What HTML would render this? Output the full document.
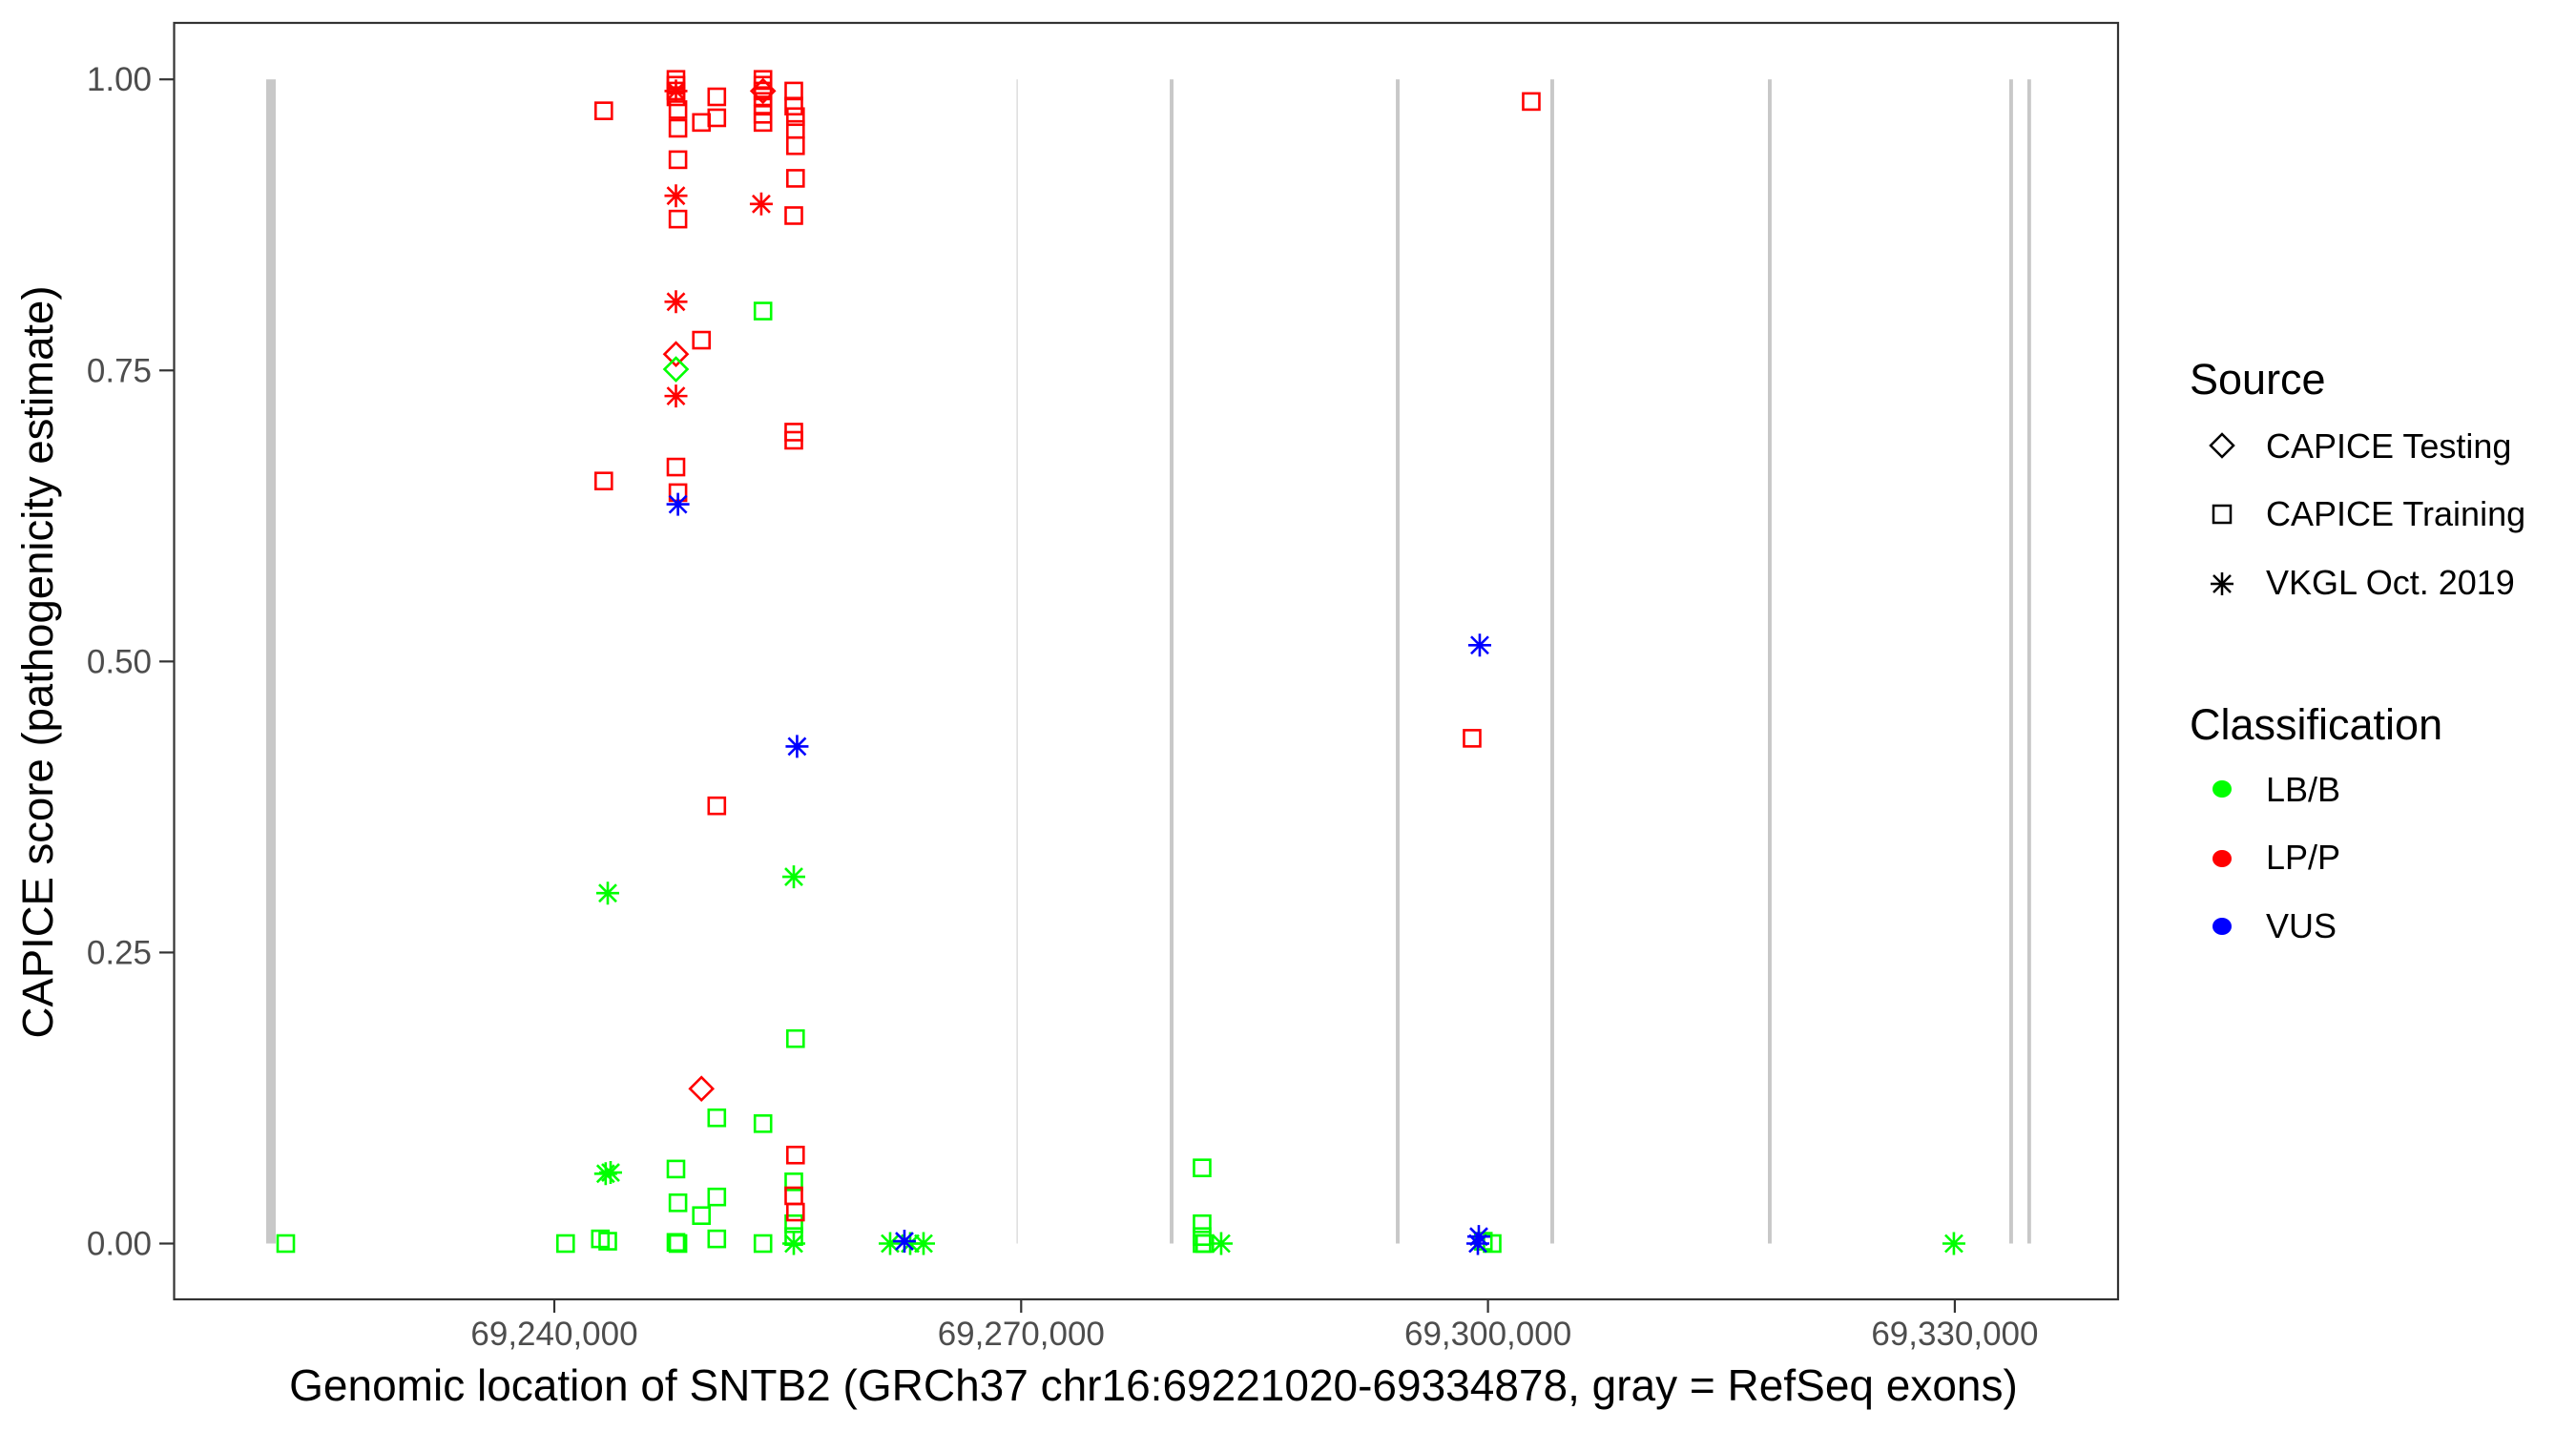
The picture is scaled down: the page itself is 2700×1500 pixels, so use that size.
<!DOCTYPE html>
<html><head><meta charset="utf-8"><style>
html,body{margin:0;padding:0;background:#fff;}
svg{display:block;font-family:"Liberation Sans",Arial,sans-serif;}
</style></head><body>
<svg id="chart" width="2700" height="1500" viewBox="0 0 2700 1500" xmlns="http://www.w3.org/2000/svg">
<rect x="0" y="0" width="2700" height="1500" fill="#fff"/>
<g id="exons"></g>
<g id="points"></g>
<rect x="182.5" y="24" width="2037.5" height="1338" fill="none" stroke="#333" stroke-width="2.2"/>
<g id="yaxis"></g>
<g id="xaxis"></g>
<text x="1209" y="1468" font-size="46" text-anchor="middle" fill="#000">Genomic location of SNTB2 (GRCh37 chr16:69221020-69334878, gray = RefSeq exons)</text>
<text transform="translate(55,694) rotate(-90)" font-size="45.5" text-anchor="middle" fill="#000">CAPICE score (pathogenicity estimate)</text>
<g>
<text x="2295" y="413" font-size="45">Source</text>
<g>
<path d="M2329 455 L2341 467 L2329 479 L2317 467 Z" fill="none" stroke="#000" stroke-width="2.5"/>
<text x="2375" y="480" font-size="36">CAPICE Testing</text></g>
<g>
<rect x="2320" y="530" width="18" height="18" fill="none" stroke="#000" stroke-width="2.5"/>
<text x="2375" y="551" font-size="36">CAPICE Training</text></g>
<g>
<path d="M2317 612 H2341 M2329 600 V624 M2320 603 L2338 621 M2338 603 L2320 621" stroke="#000" stroke-width="2.5"/>
<text x="2375" y="623" font-size="36">VKGL Oct. 2019</text></g>
<text x="2295" y="775" font-size="45">Classification</text>
<g><ellipse cx="2329" cy="827" rx="10" ry="9" fill="#00ff00"/><text x="2375" y="840" font-size="36">LB/B</text></g>
<g><ellipse cx="2329" cy="900" rx="10" ry="9" fill="#ff0000"/><text x="2375" y="911" font-size="36">LP/P</text></g>
<g><ellipse cx="2329" cy="971" rx="10" ry="9" fill="#0000ff"/><text x="2375" y="983" font-size="36">VUS</text></g>
</g>
</svg>
<script>
const NS="http://www.w3.org/2000/svg";
const xTicks=[69240000,69270000,69300000,69330000];
const xTickLabels=["69,240,000","69,270,000","69,300,000","69,330,000"];
const yTicks=[0,0.25,0.5,0.75,1];
const yTickLabels=["0.00","0.25","0.50","0.75","1.00"];
const exonStart=[69221485,69269700,69279550,69294080,69304010,69317990,69333500,69334660];
const exonEnd=[69222098,69269760,69279790,69294320,69304250,69318230,69333740,69334900];
const rsPos=[69243176,69243176,69247817,69247817,69247817,69247817,69247946,69247946,69247946,69247946,69247817,69247946,69249454,69250441,69250441,69249454,69250441,69253409,69253409,69253409,69253409,69253409,69253409,69253409,69255389,69255389,69255500,69255500,69255500,69255500,69255389,69255389,69255389,69255500,69255389,69255500,69302781,69298980];
const rsScore=[0.973,0.655,1.0,0.995,0.99,0.985,0.974,0.958,0.931,0.88,0.667,0.645,0.963,0.985,0.967,0.776,0.376,1.0,0.995,0.99,0.985,0.978,0.97,0.963,0.99,0.977,0.968,0.957,0.943,0.915,0.883,0.697,0.69,0.076,0.041,0.027,0.981,0.434];
const rstPos=[69247817,69247817,69253300,69247817,69247817];
const rstScore=[0.99,0.9,0.893,0.809,0.728];
const rdPos=[69247817,69249454,69253409];
const rdScore=[0.764,0.133,0.99];
const gdPos=[69247817];
const gdScore=[0.751];
const bstPos=[69247946,69255600,69262500,69299470,69299410,69299350];
const bstScore=[0.635,0.427,0.002,0.514,0.006,0.0];
const gstPos=[69243433,69243617,69243300,69255389,69255389,69261581,69263727,69262869,69282855,69329941];
const gstScore=[0.301,0.061,0.06,0.315,0.0,0.0,0.0,0.0,0.0,0.0];
const gsPos=[69222741,69240723,69242961,69243433,69247817,69247946,69247817,69247946,69249454,69250441,69250441,69250441,69253409,69253409,69253409,69255500,69255389,69255389,69255389,69281629,69281629,69281629,69281629,69281800,69300268,69299700];
const gsScore=[0,0,0.004,0.002,0.064,0.035,0.001,0.0,0.024,0.108,0.04,0.004,0.801,0.103,0,0.176,0.053,0.017,0.006,0.065,0.017,0.006,0,0,0,0.002];

function xS(p){return 581+(p-69240000)*489.3/30000;}
function yS(v){return 1303.5-v*1220.3;}

const ex=document.getElementById('exons');
for(let i=0;i<exonStart.length;i++){
  const r=document.createElementNS(NS,'rect');
  const x0=xS(exonStart[i]),x1=xS(exonEnd[i]);
  r.setAttribute('x',x0);r.setAttribute('y',yS(1));
  r.setAttribute('width',Math.max(1.5,x1-x0));r.setAttribute('height',yS(0)-yS(1));
  r.setAttribute('fill',(x1-x0)<2?'#dddddd':'#c8c8c8');
  
  
  ex.appendChild(r);
}
const ya=document.getElementById('yaxis');
yTicks.forEach((v,i)=>{
  const l=document.createElementNS(NS,'line');
  l.setAttribute('x1',167);l.setAttribute('x2',182);l.setAttribute('y1',yS(v));l.setAttribute('y2',yS(v));
  l.setAttribute('stroke','#333');l.setAttribute('stroke-width','2.2');
  
  
  ya.appendChild(l);
  const t=document.createElementNS(NS,'text');
  t.setAttribute('x',159);t.setAttribute('y',yS(v)+12);t.setAttribute('text-anchor','end');
  t.setAttribute('font-size','35');t.setAttribute('fill','#4d4d4d');t.textContent=yTickLabels[i];
  
  
  ya.appendChild(t);
});
const xa=document.getElementById('xaxis');
xTicks.forEach((p,i)=>{
  const l=document.createElementNS(NS,'line');
  l.setAttribute('x1',xS(p));l.setAttribute('x2',xS(p));l.setAttribute('y1',1362);l.setAttribute('y2',1376);
  l.setAttribute('stroke','#333');l.setAttribute('stroke-width','2.2');
  
  
  xa.appendChild(l);
  const t=document.createElementNS(NS,'text');
  t.setAttribute('x',xS(p));t.setAttribute('y',1410);t.setAttribute('text-anchor','middle');
  t.setAttribute('font-size','35');t.setAttribute('fill','#4d4d4d');t.textContent=xTickLabels[i];
  
  
  xa.appendChild(t);
});
const pg=document.getElementById('points');
function square(p,v,c){
  const r=document.createElementNS(NS,'rect');
  r.setAttribute('x',xS(p)-8.5);r.setAttribute('y',yS(v)-8.5);r.setAttribute('width',17);r.setAttribute('height',17);
  r.setAttribute('fill','none');r.setAttribute('stroke',c);r.setAttribute('stroke-width','2.6');
  
  
  pg.appendChild(r);
}
function star(p,v,c){
  const x=xS(p),y=yS(v);
  const s=document.createElementNS(NS,'path');
  s.setAttribute('d',`M${x-12} ${y}H${x+12}M${x} ${y-12}V${y+12}M${x-9} ${y-9}L${x+9} ${y+9}M${x+9} ${y-9}L${x-9} ${y+9}`);
  s.setAttribute('stroke',c);s.setAttribute('stroke-width','2.6');s.setAttribute('fill','none');
  
  
  pg.appendChild(s);
}
function diamond(p,v,c){
  const x=xS(p),y=yS(v);
  const s=document.createElementNS(NS,'path');
  s.setAttribute('d',`M${x} ${y-12}L${x+12} ${y}L${x} ${y+12}L${x-12} ${y}Z`);
  s.setAttribute('stroke',c);s.setAttribute('stroke-width','2.6');s.setAttribute('fill','none');
  
  
  pg.appendChild(s);
}
const G='#00ff00',R='#ff0000',B='#0000ff';
gsPos.forEach((p,i)=>square(p,gsScore[i],G));
rsPos.forEach((p,i)=>square(p,rsScore[i],R));
gstPos.forEach((p,i)=>star(p,gstScore[i],G));
rstPos.forEach((p,i)=>star(p,rstScore[i],R));
bstPos.forEach((p,i)=>star(p,bstScore[i],B));
rdPos.forEach((p,i)=>diamond(p,rdScore[i],R));
gdPos.forEach((p,i)=>diamond(p,gdScore[i],G));
</script>
</body></html>
